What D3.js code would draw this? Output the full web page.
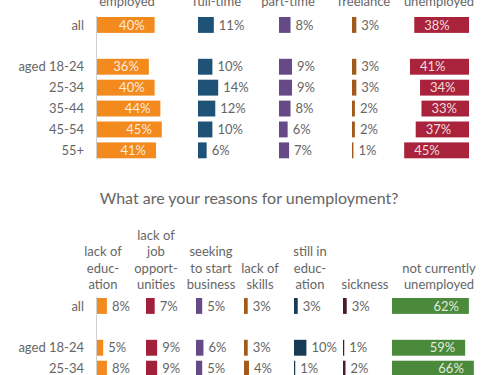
<!DOCTYPE html>
<html>
<head>
<meta charset="utf-8">
<script src="https://cdn.jsdelivr.net/npm/d3@7"></script>
<style>
  body { margin: 0; background: #fff; }
  svg { display: block; font-family: Lato, "Open Sans", sans-serif; }
  text { fill: #666; font-size: 13px; }
</style>
</head>
<body>
<div id="chart"></div>
<script>
const width = 504;
const height = 375;

// top block: employment status
const topRows = ["all", "", "aged 18-24", "25-34", "35-44", "45-54", "55+"];
const topCols = ["employed", "full-time", "part-time", "freelance", "unemployed"];
const employed = [40, null, 36, 40, 44, 45, 41];
const fullTime = [11, null, 10, 14, 12, 10, 6];
const partTime = [8, null, 9, 9, 8, 6, 7];
const freelance = [3, null, 3, 3, 2, 2, 1];
const unemployed = [38, null, 41, 34, 33, 37, 45];

// bottom block: reasons for unemployment
const title = "What are your reasons for unemployment?";
const bottomRows = ["all", "", "aged 18-24", "25-34"];
const bottomCols = [
  ["lack of", "educ-", "ation"],
  ["lack of", "job", "opport-", "unities"],
  ["seeking", "to start", "business"],
  ["lack of", "skills"],
  ["still in", "educ-", "ation"],
  ["sickness"],
  ["not currently", "unemployed"]
];
const lackEducation = [8, null, 5, 8];
const lackJobs = [7, null, 9, 9];
const seekingBusiness = [5, null, 6, 5];
const lackSkills = [3, null, 3, 4];
const stillEducation = [3, null, 10, 1];
const sickness = [3, null, 1, 2];
const notUnemployed = [62, null, 59, 66];

const svg = d3.select("#chart").append("svg")
  .attr("width", width)
  .attr("height", height);

const labelX = 84;
const axisX = 96.5;

function block(opts) {
  let y = d3.scaleBand().domain(opts.rows).range([opts.y0, opts.y0 + opts.rows.length * 20.9]).paddingInner(0.24).paddingOuter(0.12);
  let x = d3.scaleLinear().domain([0, 100]).range([0, opts.pxPer100]);
  let g = svg.append("g");

  g.selectAll("text.row").data(opts.rows.filter(d => d !== ""))
    .enter().append("text")
    .attr("class", "row")
    .attr("x", labelX)
    .attr("y", d => y(d) + y.bandwidth() / 2)
    .attr("dy", "0.35em")
    .attr("text-anchor", "end")
    .text(d => d);

  g.append("line")
    .attr("x1", axisX).attr("x2", axisX)
    .attr("y1", y(opts.rows[0]) - 1)
    .attr("y2", opts.axisEnd)
    .attr("stroke", "#d0d0d0")
    .attr("stroke-width", 1);

  opts.series.forEach(function(s) {
    let pts = s.values.map((v, i) => ({v: v, row: opts.rows[i]})).filter(d => d.v !== null);
    let sg = g.append("g");
    let x0 = d => s.align === "right" ? s.x - x(d.v) : s.x;
    sg.selectAll("rect").data(pts)
      .enter().append("rect")
      .attr("x", x0)
      .attr("y", d => y(d.row))
      .attr("width", d => x(d.v))
      .attr("height", y.bandwidth())
      .attr("fill", s.color);
    sg.selectAll("text").data(pts)
      .enter().append("text")
      .attr("y", d => y(d.row) + y.bandwidth() / 2)
      .attr("dy", "0.36em")
      .attr("x", function(d) {
        if (s.label === "insideEnd") return x0(d) + x(d.v) - 10;
        if (s.label === "insideStart") return x0(d) + 10;
        return x0(d) + x(d.v) + 5;
      })
      .attr("text-anchor", s.label === "insideEnd" ? "end" : "start")
      .style("fill", s.label === "outside" ? "#666" : "rgba(255,255,255,0.85)")
      .text(d => d.v + "%");
  });
}

// top headers (partly cut by the top edge, as in the source)
const topHeaderX = [127, 217, 288, 364, 439];
svg.append("g").selectAll("text").data(topCols)
  .enter().append("text")
  .attr("x", (d, i) => topHeaderX[i])
  .attr("y", 6)
  .attr("text-anchor", "middle")
  .text(d => d);

block({
  rows: topRows, y0: 14.5, pxPer100: 144, axisEnd: 159,
  series: [
    {values: employed, x: 97, color: "#f28a1e", label: "insideEnd"},
    {values: fullTime, x: 198, color: "#1f5277", label: "outside"},
    {values: partTime, x: 279, color: "#654a87", label: "outside"},
    {values: freelance, x: 352, color: "#a25a1c", label: "outside"},
    {values: unemployed, x: 469, align: "right", color: "#a8233b", label: "insideStart"}
  ]
});

svg.append("text")
  .attr("x", 249)
  .attr("y", 198)
  .attr("dy", "0.35em")
  .attr("text-anchor", "middle")
  .style("font-size", "16px")
  .text(title);

// bottom headers, bottom-aligned
const bottomHeaderX = [103, 156, 211, 260, 310, 365, 439];
const hg = svg.append("g");
bottomCols.forEach(function(lines, i) {
  lines.forEach(function(line, j) {
    hg.append("text")
      .attr("x", bottomHeaderX[i])
      .attr("y", 289 - (lines.length - 1 - j) * 16.5)
      .attr("text-anchor", "middle")
      .text(line);
  });
});

block({
  rows: bottomRows, y0: 295.5, pxPer100: 124, axisEnd: 375,
  series: [
    {values: lackEducation, x: 97, color: "#f28a1e", label: "outside"},
    {values: lackJobs, x: 146, color: "#a1213a", label: "outside"},
    {values: seekingBusiness, x: 196, color: "#654a87", label: "outside"},
    {values: lackSkills, x: 244, color: "#a25a1c", label: "outside"},
    {values: stillEducation, x: 294, color: "#173a55", label: "outside"},
    {values: sickness, x: 343, color: "#4e1a26", label: "outside"},
    {values: notUnemployed, x: 392, color: "#4b8a3b", label: "insideEnd"}
  ]
});
</script>
</body>
</html>
